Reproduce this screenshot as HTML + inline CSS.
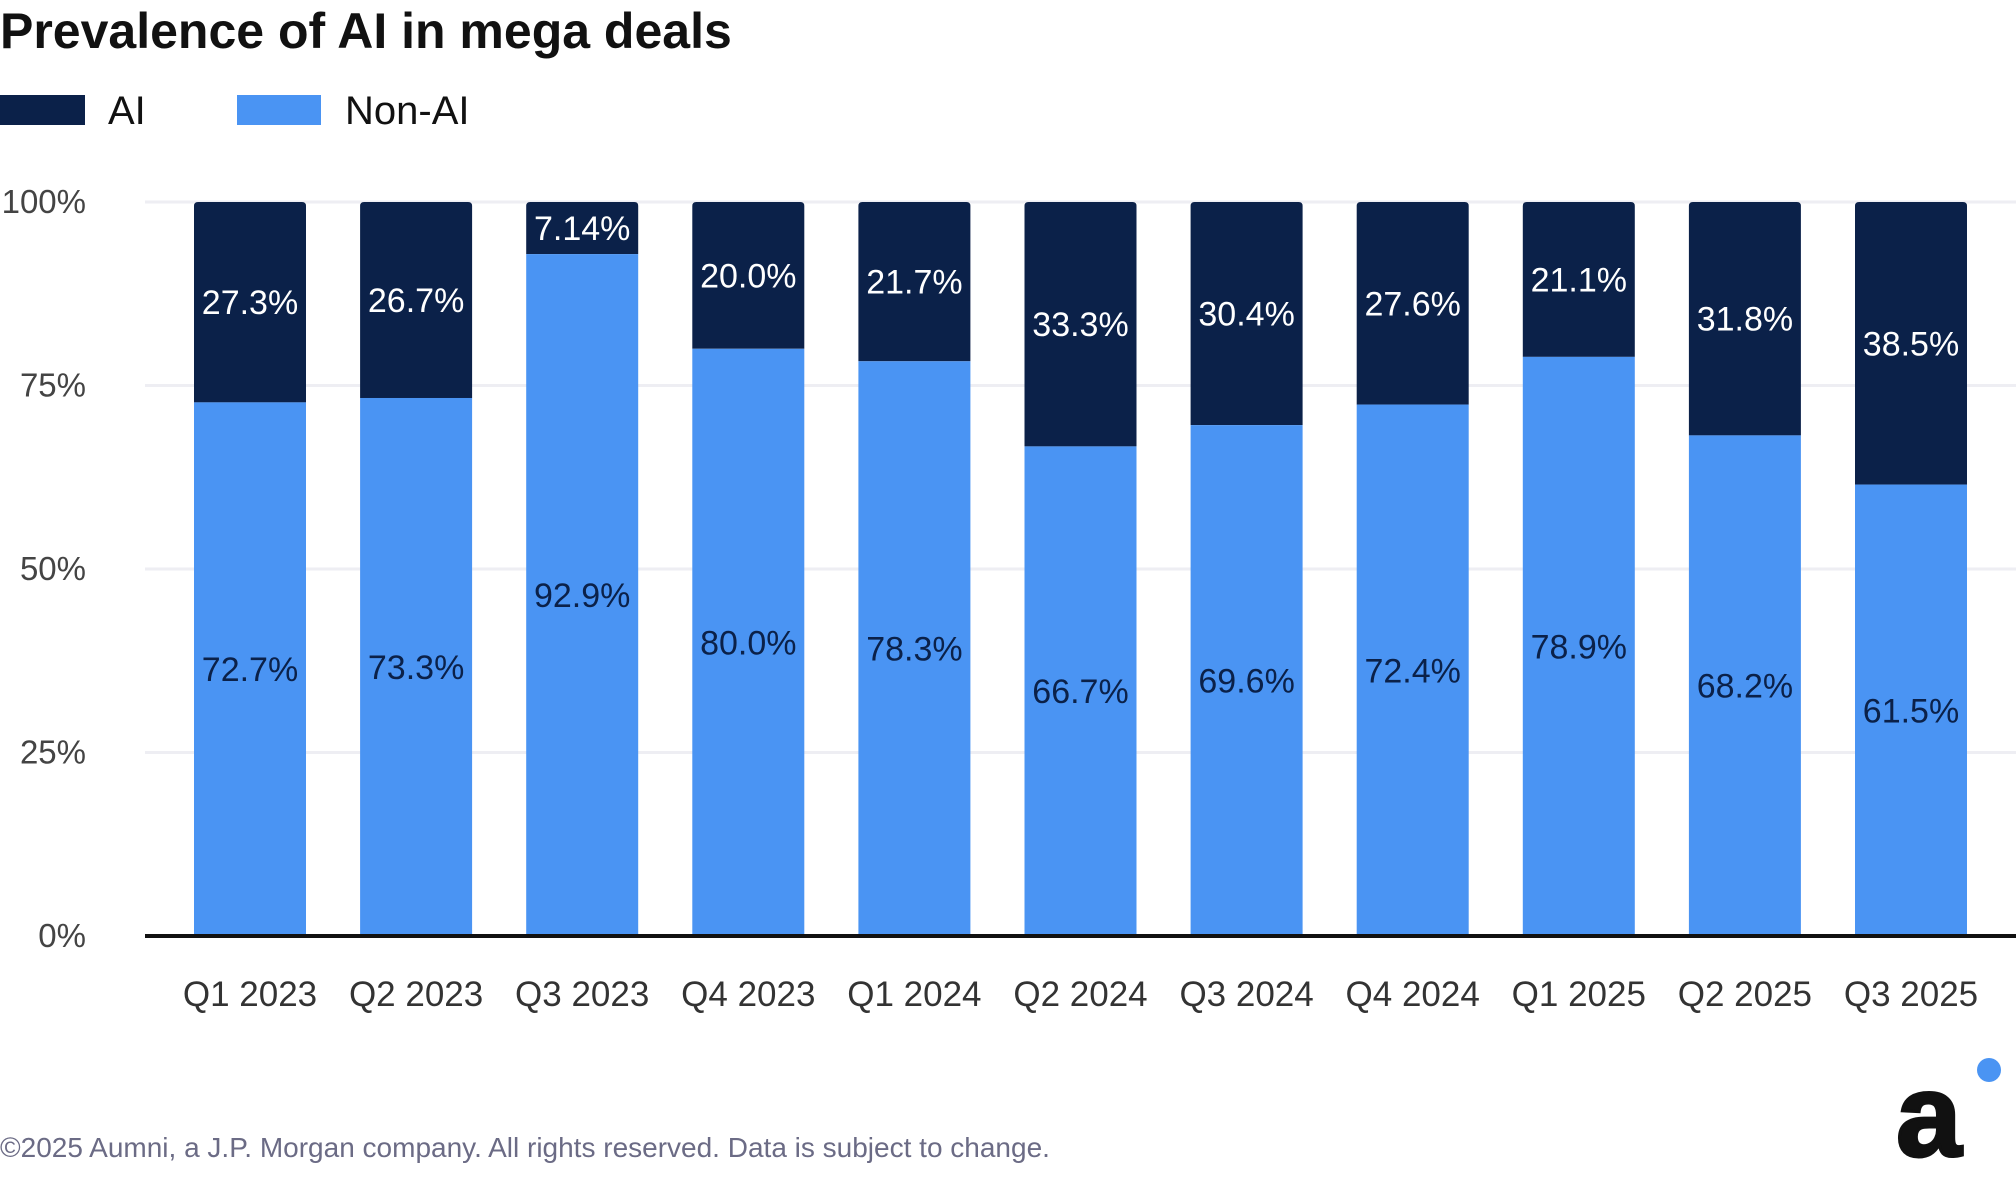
<!DOCTYPE html>
<html><head><meta charset="utf-8">
<style>
html,body{margin:0;padding:0;background:#fff;}
body{width:2016px;height:1172px;overflow:hidden;position:relative;font-family:"Liberation Sans",sans-serif;}
</style></head>
<body>
<svg width="2016" height="1172" viewBox="0 0 2016 1172" xmlns="http://www.w3.org/2000/svg">
  <text x="0" y="48" font-size="50" font-weight="bold" fill="#111">Prevalence of AI in mega deals</text>
  <g>
    <rect x="0" y="95" width="85" height="30" fill="#0b2149"/>
    <text x="108" y="124" font-size="40" fill="#111">AI</text>
    <rect x="237" y="95" width="84" height="30" fill="#4a94f3"/>
    <text x="345" y="124" font-size="40" fill="#111">Non-AI</text>
  </g>
  <g id="grid"></g>
  <g id="bars"></g>
  <g id="labels"></g>
  <line x1="145" y1="936" x2="2016" y2="936" stroke="#111" stroke-width="4"/>
  <text x="0" y="1157" font-size="28" fill="#6b6b85">©2025 Aumni, a J.P. Morgan company. All rights reserved. Data is subject to change.</text>
  <g>
    <circle cx="1989" cy="1070" r="12" fill="#4a94f3"/>
    <text x="1896" y="1156" font-size="118" font-weight="bold" fill="#111" stroke="#111" stroke-width="3">a</text>
  </g>
</svg>
<script>
const categories = ["Q1 2023","Q2 2023","Q3 2023","Q4 2023","Q1 2024","Q2 2024","Q3 2024","Q4 2024","Q1 2025","Q2 2025","Q3 2025"];
const aiValues = [27.3,26.7,7.14,20.0,21.7,33.3,30.4,27.6,21.1,31.8,38.5];
const nonAiValues = [72.7,73.3,92.9,80.0,78.3,66.7,69.6,72.4,78.9,68.2,61.5];
const yTicks = [0,25,50,75,100];
const yTickLabels = ["0%","25%","50%","75%","100%"];

const NS = "http://www.w3.org/2000/svg";
const yTop = 202, yBot = 936;
const y = v => yBot - (v/100)*(yBot-yTop);
const barW = 112, step = 166.1, x0 = 194;
const xLeft = i => x0 + i*step;
function mk(tag, attrs, parent){ const e=document.createElementNS(NS,tag); for(const k in attrs) e.setAttribute(k,attrs[k]); parent.appendChild(e); return e; }
const grid=document.getElementById('grid'), bars=document.getElementById('bars'), labels=document.getElementById('labels');

yTicks.forEach((t,i)=>{
  if(t>0){
    const l=mk('line',{x1:145,x2:2016,y1:y(t),y2:y(t),stroke:'#eeeef3','stroke-width':3},grid);
    
    
  }
  const tx=mk('text',{x:86,y:y(t)+11,'font-size':33,fill:'#444','text-anchor':'end'},grid);
  tx.textContent=yTickLabels[i];
  
  
});

function fmt(v){ return (v===7.14? v.toFixed(2) : v.toFixed(1))+'%'; }

categories.forEach((c,i)=>{
  const xl=xLeft(i), cx=xl+barW/2;
  const total=aiValues[i]+nonAiValues[i];
  const nTop=y(nonAiValues[i]), aTop=y(total>100?100:total);
  const a=mk('path',{d:`M${xl},${nTop} L${xl},${aTop+4} Q${xl},${aTop} ${xl+4},${aTop} L${xl+barW-4},${aTop} Q${xl+barW},${aTop} ${xl+barW},${aTop+4} L${xl+barW},${nTop} Z`,fill:'#0b2149'},bars);
  
  
  const n=mk('rect',{x:xl,y:nTop,width:barW,height:yBot-nTop,fill:'#4a94f3'},bars);
  
  
  const la=mk('text',{x:cx,y:(aTop+nTop)/2+12,'font-size':34,fill:'#fff','text-anchor':'middle'},labels);
  la.textContent=fmt(aiValues[i]);
  
  
  const ln=mk('text',{x:cx,y:(nTop+yBot)/2+12,'font-size':34,fill:'#0b2149','text-anchor':'middle'},labels);
  ln.textContent=fmt(nonAiValues[i]);
  
  
  const xt=mk('text',{x:cx,y:1006,'font-size':35,fill:'#333','text-anchor':'middle'},labels);
  xt.textContent=c;
  
  
});
</script>
</body></html>
